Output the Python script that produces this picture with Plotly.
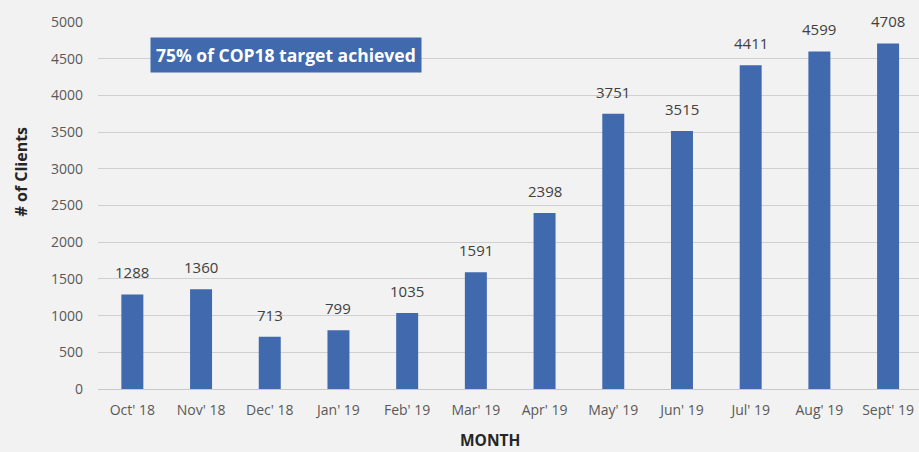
import plotly.graph_objects as go

months = ["Oct' 18", "Nov' 18", "Dec' 18", "Jan' 19", "Feb' 19", "Mar' 19",
          "Apr' 19", "May' 19", "Jun' 19", "Jul' 19", "Aug' 19", "Sept' 19"]
clients = [1288, 1360, 713, 799, 1035, 1591, 2398, 3751, 3515, 4411, 4599, 4708]
y_ticks = list(range(0, 5001, 500))

BAR = "#4169ae"
FONT = "Open Sans, Noto Sans, sans-serif"

fig = go.Figure()
fig.add_trace(go.Bar(x=list(range(len(months))), y=clients, marker_color=BAR,
                     width=0.32, marker_line_width=0))

for i, v in enumerate(clients):
    fig.add_annotation(x=i, y=v, text=str(v), showarrow=False, yanchor="bottom",
                       yshift=10, font=dict(size=15, color="#404040", family=FONT))

fig.add_annotation(x=0.25, y=4550, xref="x", yref="y", xanchor="left", yanchor="middle",
                   text="<b>75% of COP18 target achieved</b>", showarrow=False,
                   bgcolor=BAR, borderpad=5, font=dict(size=17.5, color="white", family=FONT))

# axis titles placed as in the reference
fig.add_annotation(xref="paper", yref="paper", x=-0.095, y=0.5 + (205 - 171) / 367,
                   xanchor="center", yanchor="middle", textangle=-90, showarrow=False,
                   text="<b># of Clients</b>", font=dict(size=16, color="#262626", family=FONT))
fig.add_annotation(xref="paper", yref="paper", x=(490 - 98) / 821, y=-(440 - 389) / 367,
                   xanchor="center", yanchor="middle", showarrow=False,
                   text="<b>MONTH</b>", font=dict(size=15.5, color="#262626", family=FONT))

fig.update_layout(
    width=919, height=452,
    margin=dict(l=98, r=0, t=22, b=63),
    paper_bgcolor="#f2f2f2", plot_bgcolor="#f2f2f2",
    showlegend=False, bargap=0.68,
    font=dict(family=FONT, color="#595959", size=14),
    xaxis=dict(tickmode="array", tickvals=list(range(len(months))), ticktext=months,
               range=[-0.5, 11.45], showgrid=False, showline=True, linecolor="#c8c8c8",
               linewidth=1, ticks="", ticklabelstandoff=8,
               tickfont=dict(size=14, color="#595959")),
    yaxis=dict(range=[0, 5000], tickvals=y_ticks, showgrid=True, gridcolor="#d0d0d0",
               gridwidth=1, zeroline=False, ticks="", ticklabelstandoff=14,
               tickfont=dict(size=14, color="#595959")),
)

fig.write_html("out.html", config={"displayModeBar": False},
               post_script="document.body.style.margin='0';")
